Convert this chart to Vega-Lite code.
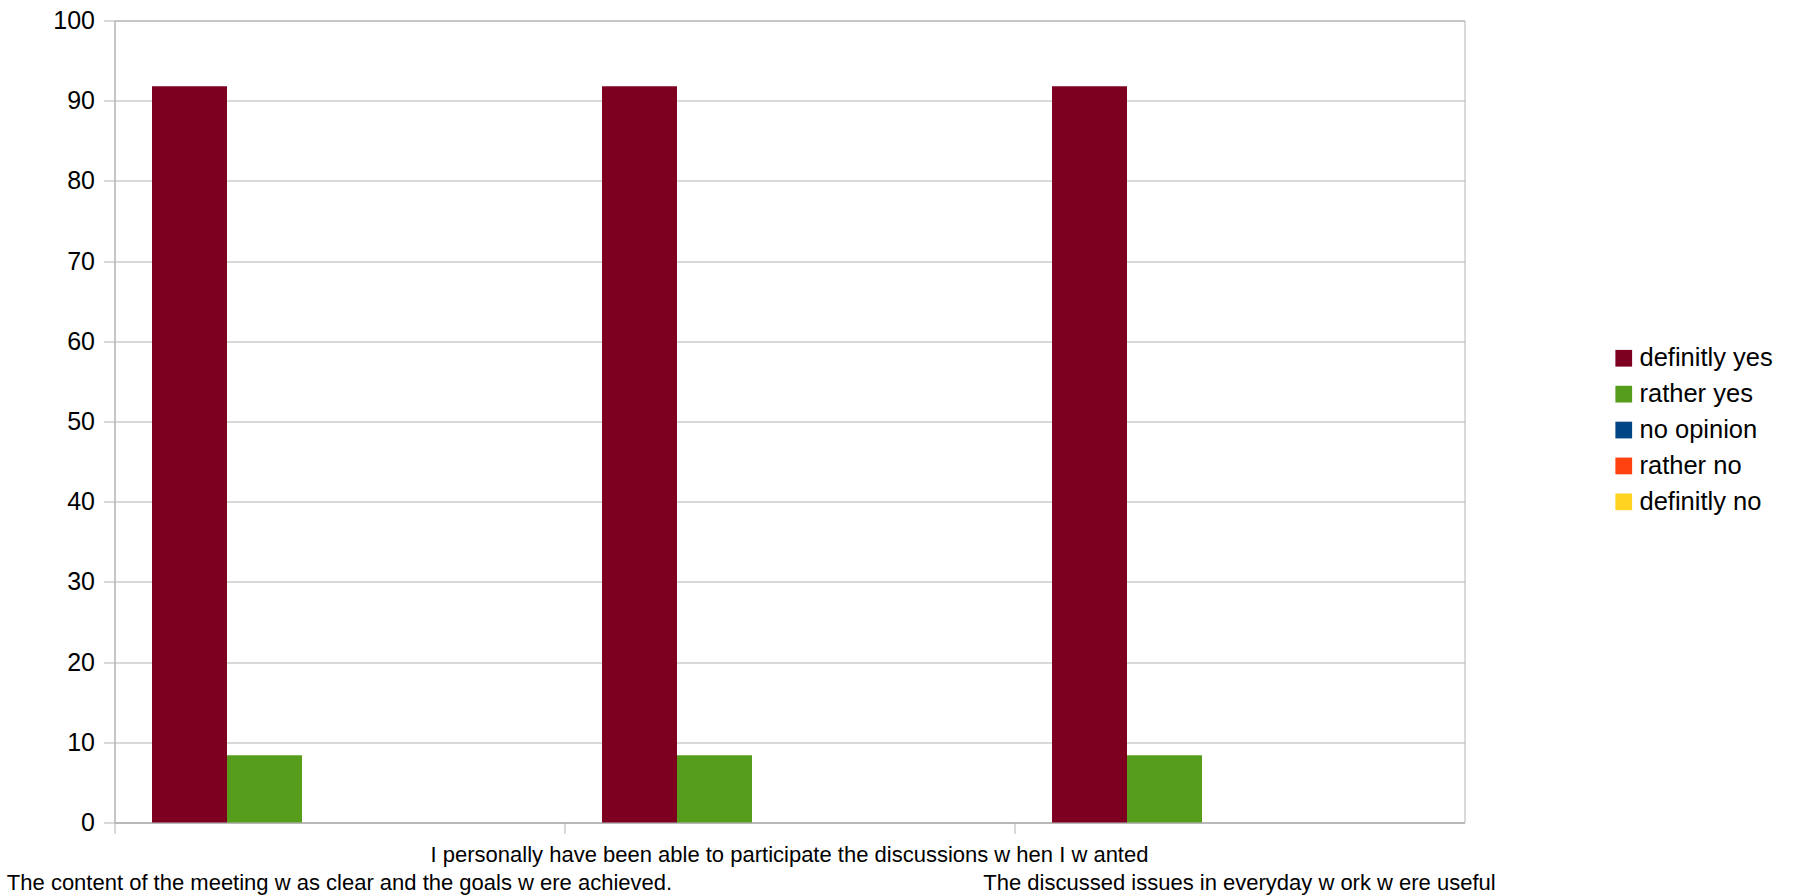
{
  "$schema": "https://vega.github.io/schema/vega-lite/v6.json",
  "autosize": {"type": "none"},
  "padding": {"left": 114.5, "top": 20.5, "right": 331.5, "bottom": 72.5},
  "width": 1350,
  "height": 802,
  "background": "white",
  "config": {
    "view": {"stroke": "#b3b3b3", "strokeWidth": 1},
    "font": "Liberation Sans"
  },
  "data": {
    "values": [
      {"question": "The content of the meeting w as clear and the goals w ere achieved.", "answer": "definitly yes", "percent": 91.8},
      {"question": "The content of the meeting w as clear and the goals w ere achieved.", "answer": "rather yes", "percent": 8.4},
      {"question": "The content of the meeting w as clear and the goals w ere achieved.", "answer": "no opinion", "percent": 0},
      {"question": "The content of the meeting w as clear and the goals w ere achieved.", "answer": "rather no", "percent": 0},
      {"question": "The content of the meeting w as clear and the goals w ere achieved.", "answer": "definitly no", "percent": 0},
      {"question": "I personally have been able to participate the discussions w hen I w anted", "answer": "definitly yes", "percent": 91.8},
      {"question": "I personally have been able to participate the discussions w hen I w anted", "answer": "rather yes", "percent": 8.4},
      {"question": "I personally have been able to participate the discussions w hen I w anted", "answer": "no opinion", "percent": 0},
      {"question": "I personally have been able to participate the discussions w hen I w anted", "answer": "rather no", "percent": 0},
      {"question": "I personally have been able to participate the discussions w hen I w anted", "answer": "definitly no", "percent": 0},
      {"question": "The discussed issues in everyday w ork w ere useful", "answer": "definitly yes", "percent": 91.8},
      {"question": "The discussed issues in everyday w ork w ere useful", "answer": "rather yes", "percent": 8.4},
      {"question": "The discussed issues in everyday w ork w ere useful", "answer": "no opinion", "percent": 0},
      {"question": "The discussed issues in everyday w ork w ere useful", "answer": "rather no", "percent": 0},
      {"question": "The discussed issues in everyday w ork w ere useful", "answer": "definitly no", "percent": 0}
    ]
  },
  "mark": {"type": "bar", "strokeWidth": 0},
  "encoding": {
    "x": {
      "field": "question",
      "type": "nominal",
      "sort": null,
      "scale": {"paddingInner": 0, "paddingOuter": 0},
      "axis": {
        "title": null,
        "bandPosition": 0,
        "labelAngle": 0,
        "labelLimit": 0,
        "labelOverlap": false,
        "labelBound": false,
        "labelFont": "Liberation Sans",
        "labelFontSize": 22,
        "labelColor": "black",
        "labelLineHeight": 28,
        "labelPadding": 11,
        "labelExpr": "indexof(datum.value, 'I personally') == 0 ? [datum.label] : [' ', datum.label]",
        "tickSize": 11,
        "tickColor": "#b3b3b3",
        "domainColor": "#b3b3b3",
        "domainWidth": 1.5,
        "grid": false
      }
    },
    "xOffset": {
      "field": "answer",
      "type": "nominal",
      "scale": {"domain": ["definitly yes", "rather yes", "no opinion", "rather no", "definitly no"], "paddingInner": 0, "paddingOuter": 0.5}
    },
    "y": {
      "field": "percent",
      "type": "quantitative",
      "scale": {"domain": [0, 100], "nice": false},
      "axis": {
        "title": null,
        "values": [0, 10, 20, 30, 40, 50, 60, 70, 80, 90, 100],
        "labelFont": "Liberation Sans",
        "labelFontSize": 25,
        "labelColor": "black",
        "labelPadding": 9,
        "tickSize": 11,
        "tickColor": "#b3b3b3",
        "domainColor": "#b3b3b3",
        "gridColor": "#b3b3b3",
        "gridWidth": 1
      }
    },
    "color": {
      "field": "answer",
      "type": "nominal",
      "scale": {
        "domain": ["definitly yes", "rather yes", "no opinion", "rather no", "definitly no"],
        "range": ["#7e0021", "#579d1c", "#004586", "#ff420e", "#ffd320"]
      },
      "legend": {
        "title": null,
        "orient": "none",
        "legendX": 1496.5,
        "legendY": 325,
        "padding": 0,
        "symbolType": "square",
        "symbolSize": 280,
        "symbolStrokeWidth": 0,
        "labelFont": "Liberation Sans",
        "labelFontSize": 25.5,
        "labelColor": "black",
        "labelOffset": 3,
        "rowPadding": 8.9,
        "labelLimit": 0
      }
    }
  }
}
